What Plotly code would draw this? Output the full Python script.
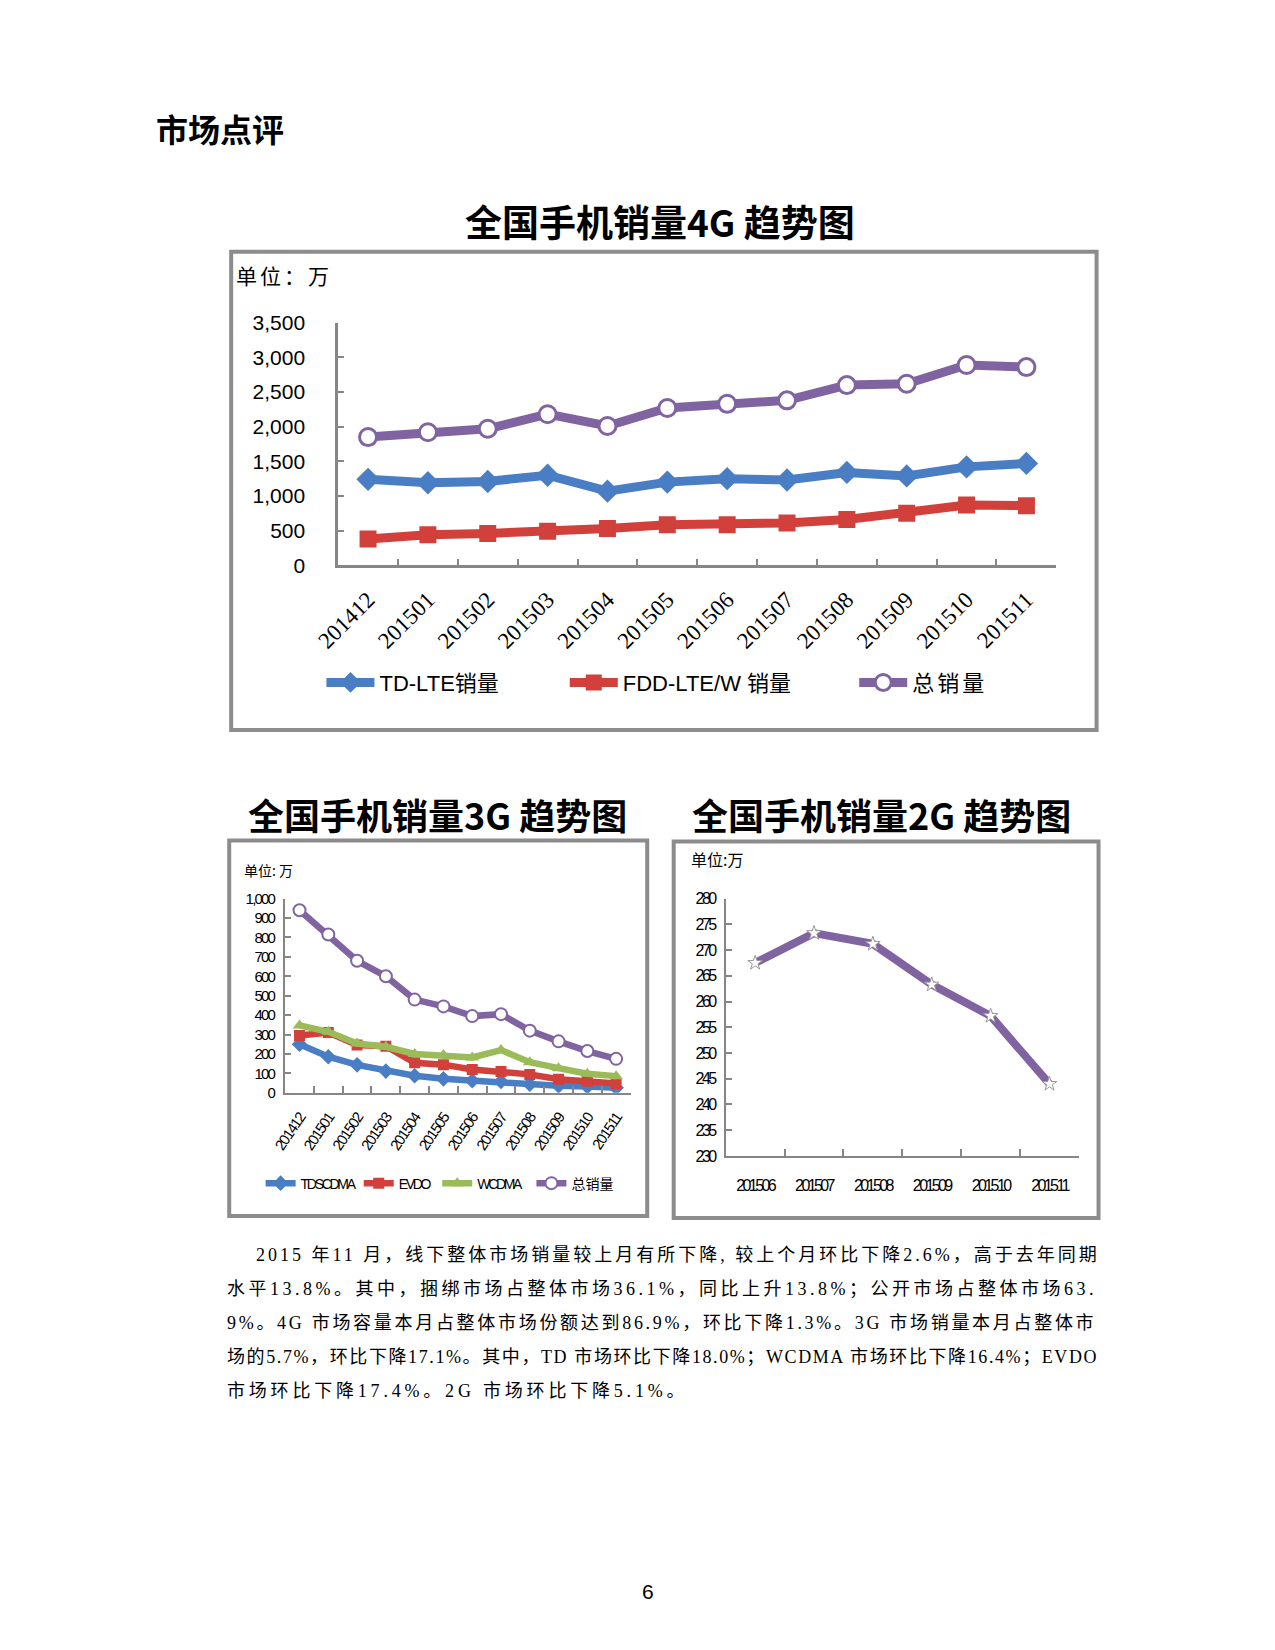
import plotly.graph_objects as go

# ---------------- data ----------------
months_4g = ["201412", "201501", "201502", "201503", "201504", "201505",
             "201506", "201507", "201508", "201509", "201510", "201511"]
td_lte = [1240, 1190, 1210, 1300, 1070, 1200, 1250, 1230, 1340, 1290, 1420, 1470]
fdd_lte_w = [380, 440, 460, 490, 530, 585, 585, 610, 660, 750, 870, 860]
total_4g = [1850, 1920, 1970, 2180, 2010, 2270, 2330, 2380, 2600, 2620, 2890, 2860]

months_3g = ["201412", "201501", "201502", "201503", "201504", "201505",
             "201506", "201507", "201508", "201509", "201510", "201511"]
tdscdma = [250, 186, 144, 112, 88, 72, 62, 58, 44, 36, 32, 26]
evdo = [295, 310, 246, 240, 155, 145, 120, 110, 95, 70, 60, 48]
wcdma = [347, 314, 254, 237, 200, 195, 182, 220, 158, 127, 98, 86]
total_3g = [940, 815, 680, 600, 480, 445, 395, 405, 320, 265, 215, 175]

months_2g = ["201506", "201507", "201508", "201509", "201510", "201511"]
total_2g = [267.5, 273.3, 271.2, 263.3, 257.2, 244.0]

y_ticks_4g = [0, 500, 1000, 1500, 2000, 2500, 3000, 3500]
y_ticks_3g = [0, 100, 200, 300, 400, 500, 600, 700, 800, 900, 1000]
y_ticks_2g = [230, 235, 240, 245, 250, 255, 260, 265, 270, 275, 280]

paragraph_lines = [
    "2015 年11 月，线下整体市场销量较上月有所下降, 较上个月环比下降2.6%，高于去年同期",
    "水平13.8%。其中，捆绑市场占整体市场36.1%，同比上升13.8%；公开市场占整体市场63.",
    "9%。4G 市场容量本月占整体市场份额达到86.9%，环比下降1.3%。3G 市场销量本月占整体市",
    "场的5.7%，环比下降17.1%。其中，TD 市场环比下降18.0%；WCDMA 市场环比下降16.4%；EVDO",
    "市场环比下降17.4%。2G 市场环比下降5.1%。",
]

# ---------------- styling ----------------
W, H = 1275, 1650
def PX(x): return x / W
def PY(y): return 1 - y / H

BLUE = "#4A7EC4"
RED = "#D2403C"
GREEN = "#9BBB59"
PURPLE = "#8064A2"
AXIS = "#868686"
CJK = "Noto Sans CJK SC"
SANS = "Liberation Sans, Arial, " + CJK
SERIF = "Liberation Serif, " + CJK

def sq(s, ls):
    """letter spacing (negative = condensed look)"""
    return '<span style="letter-spacing:%.1fpx">%s</span>' % (ls, s)

fig = go.Figure()

# 4G traces
fig.add_trace(go.Scatter(x=months_4g, y=td_lte, name="TD-LTE销量", mode="lines+markers",
                         line=dict(color=BLUE, width=9),
                         marker=dict(symbol="diamond", size=18, color=BLUE),
                         xaxis="x", yaxis="y", legend="legend"))
fig.add_trace(go.Scatter(x=months_4g, y=fdd_lte_w, name="FDD-LTE/W 销量", mode="lines+markers",
                         line=dict(color=RED, width=9),
                         marker=dict(symbol="square", size=17, color=RED),
                         xaxis="x", yaxis="y", legend="legend2"))
fig.add_trace(go.Scatter(x=months_4g, y=total_4g, name=sq("总销量", 3), mode="lines+markers",
                         line=dict(color=PURPLE, width=9),
                         marker=dict(symbol="circle", size=17, color="white",
                                     line=dict(color=PURPLE, width=3)),
                         xaxis="x", yaxis="y", legend="legend3"))

# 3G traces
fig.add_trace(go.Scatter(x=months_3g, y=tdscdma, name=sq("TDSCDMA", -2.3), mode="lines+markers",
                         line=dict(color=BLUE, width=6.5),
                         marker=dict(symbol="diamond", size=12, color=BLUE),
                         xaxis="x2", yaxis="y2", legend="legend4"))
fig.add_trace(go.Scatter(x=months_3g, y=evdo, name=sq("EVDO", -2.3), mode="lines+markers",
                         line=dict(color=RED, width=6.5),
                         marker=dict(symbol="square", size=11, color=RED),
                         xaxis="x2", yaxis="y2", legend="legend5"))
fig.add_trace(go.Scatter(x=months_3g, y=wcdma, name=sq("WCDMA", -2.3), mode="lines+markers",
                         line=dict(color=GREEN, width=6.5),
                         marker=dict(symbol="triangle-up", size=12, color=GREEN),
                         xaxis="x2", yaxis="y2", legend="legend6"))
fig.add_trace(go.Scatter(x=months_3g, y=total_3g, name="总销量", mode="lines+markers",
                         line=dict(color=PURPLE, width=6.5),
                         marker=dict(symbol="circle", size=12, color="white",
                                     line=dict(color=PURPLE, width=2)),
                         xaxis="x2", yaxis="y2", legend="legend7"))

# 2G trace
fig.add_trace(go.Scatter(x=months_2g, y=total_2g, name="2G", mode="lines+markers",
                         line=dict(color=PURPLE, width=8),
                         marker=dict(symbol="star", size=11, color="white",
                                     line=dict(color="#9a9a9a", width=1)),
                         xaxis="x3", yaxis="y3", showlegend=False))

def xcat(domain, cats, labels, fsize, family, angle, lw, standoff):
    return dict(domain=domain, type="category", range=[-0.5, len(cats) - 0.5],
                tickmode="array", tickvals=cats, ticktext=labels,
                showline=True, linecolor=AXIS, linewidth=lw,
                ticks="inside", tickson="boundaries", ticklen=7, tickwidth=2, tickcolor=AXIS,
                tickangle=angle, tickfont=dict(family=family, size=fsize, color="black"),
                ticklabelstandoff=standoff,
                showgrid=False, zeroline=False, fixedrange=True)

def ylin(domain, rng, tickvals, labels, fsize, family, standoff, lw):
    return dict(domain=domain, range=rng, tickmode="array", tickvals=tickvals, ticktext=labels,
                showline=True, linecolor=AXIS, linewidth=lw,
                ticks="inside", ticklen=6, tickwidth=2, tickcolor=AXIS,
                tickfont=dict(family=family, size=fsize, color="black"),
                showgrid=False, zeroline=False, ticklabelstandoff=standoff, fixedrange=True)

x1 = xcat([PX(312), PX(1044)], months_4g, months_4g, 23, SERIF, -45, 2.5, 9)
x2 = xcat([PX(258), PX(610)], months_3g, [sq(m, -1.5) for m in months_3g], 15, SANS, -56, 2, 8)
x3 = xcat([PX(707), PX(1067)], months_2g, [sq(m, -2.6) for m in months_2g], 16, SANS, 0, 2, 14)

y1 = ylin([PY(553), PY(307)], [0, 3500], y_ticks_4g, ["{:,}".format(v) for v in y_ticks_4g],
          21, SANS, 26, 2.5)
y2 = ylin([PY(1088), PY(891)], [0, 1000], y_ticks_3g,
          [sq("{:,}".format(v), -1.8) for v in y_ticks_3g], 15, SANS, 6, 2)
y3 = ylin([PY(1152), PY(891)], [230, 280], y_ticks_2g,
          [sq(str(v), -2.6) for v in y_ticks_2g], 16, SANS, 6, 2)

fig.update_layout(
    width=W, height=H, autosize=False,
    margin=dict(l=0, r=0, t=0, b=0),
    paper_bgcolor="white", plot_bgcolor="rgba(0,0,0,0)",
    font=dict(family=SANS, color="black"),
    xaxis=dict(x1, anchor="y"), yaxis=dict(y1, anchor="x"),
    xaxis2=dict(x2, anchor="y2"), yaxis2=dict(y2, anchor="x2"),
    xaxis3=dict(x3, anchor="y3"), yaxis3=dict(y3, anchor="x3"),
)

def leg(x, y, size, itemw):
    return dict(x=PX(x), y=PY(y), xanchor="left", yanchor="middle",
                orientation="h", bgcolor="rgba(0,0,0,0)", borderwidth=0,
                font=dict(family=SANS, size=size, color="black"),
                itemwidth=itemw, tracegroupgap=0)

fig.update_layout(
    legend=leg(295, 672, 22, 48),
    legend2=leg(543, 672, 22, 48),
    legend3=leg(838, 672, 22, 48),
    legend4=leg(233, 1180, 14, 30),
    legend5=leg(333, 1180, 14, 30),
    legend6=leg(413, 1180, 14, 30),
    legend7=leg(509, 1180, 14, 30),
)

# frames
boxes = [(203, 235, 1085, 720), (201, 832, 627, 1213), (654, 833, 1087, 1215)]
shapes = []
for (bx0, by0, bx1, by1) in boxes:
    shapes.append(dict(type="rect", xref="paper", yref="paper",
                       x0=PX(bx0), x1=PX(bx1), y0=PY(by1), y1=PY(by0),
                       line=dict(color="#8c8c8c", width=4), fillcolor="rgba(0,0,0,0)",
                       layer="below"))
fig.update_layout(shapes=shapes)

ann = []
def text(x, y, s, size, family=CJK, xanchor="left", bold=False):
    ann.append(dict(x=PX(x), y=PY(y), xref="paper", yref="paper", showarrow=False,
                    text=("<b>%s</b>" % s) if bold else s, xanchor=xanchor, yanchor="middle",
                    font=dict(family=family, size=size, color="black")))

text(124, 110, "市场点评", 32, bold=True)
text(640, 204, "全国手机销量4G 趋势图", 37, bold=True, xanchor="center")
text(413, 805, "全国手机销量3G 趋势图", 36, bold=True, xanchor="center")
text(866, 805, "全国手机销量2G 趋势图", 36, bold=True, xanchor="center")
text(206, 259, sq("单位：万", 3), 21)
text(214, 862, "单位: 万", 14)
text(670, 851, "单位:万", 16)

para_y = [1252, 1287, 1321, 1356, 1390]
para_x = [226, 197, 197, 197, 197]
spacing = [2.95, 3.5, 2.7, 1.55, 3.8]
for i, s in enumerate(paragraph_lines):
    text(para_x[i], para_y[i], sq(s, spacing[i]), 18, family=SERIF)

text(628, 1594, "6", 21, family=SANS, xanchor="center")
fig.update_layout(annotations=ann)

fig.write_html("out.html")
